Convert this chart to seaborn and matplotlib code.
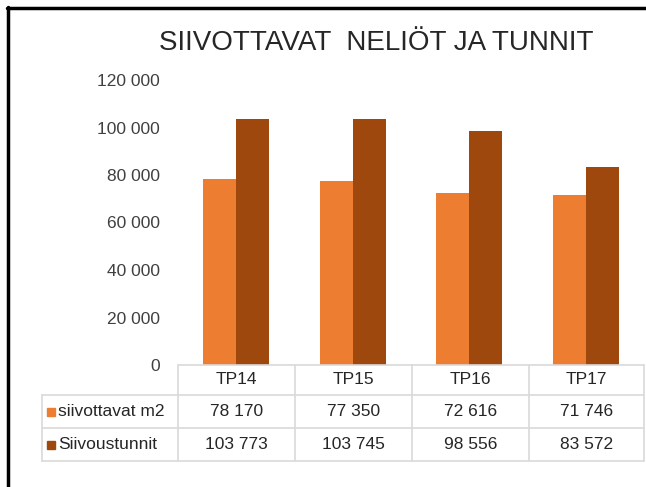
import numpy as np
import pandas as pd
import matplotlib
matplotlib.use('Agg')
import matplotlib.pyplot as plt
import seaborn as sns
from matplotlib.lines import Line2D
from matplotlib.patches import Rectangle

# ── Dados ────────────────────────────────────────────────────────────────────
kaudet = ['TP14', 'TP15', 'TP16', 'TP17']
neliot = [78170, 77350, 72616, 71746]
tunnit = [103773, 103745, 98556, 83572]
sarjat = ['siivottavat m2', 'Siivoustunnit']
y_ticks = [0, 20000, 40000, 60000, 80000, 100000, 120000]

VARIT = {'siivottavat m2': '#ED7D31', 'Siivoustunnit': '#9E480E'}


def fmt(v):
    return f'{v:,}'.replace(',', ' ')


df = pd.DataFrame({
    'kausi': kaudet * 2,
    'sarja': [sarjat[0]] * 4 + [sarjat[1]] * 4,
    'arvo': neliot + tunnit,
})

sns.set_style('white')
plt.rcParams['font.family'] = ['Liberation Sans', 'DejaVu Sans']

W, H = 646, 487
fig = plt.figure(figsize=(W / 100, H / 100), dpi=100)

def fx(px):
    return px / W

def fy(py):
    return 1 - py / H

# plot area
x0, x1 = 178, 644
y_top, y_base = 80, 365
ax = fig.add_axes([fx(x0), fy(y_base), fx(x1) - fx(x0), fy(y_top) - fy(y_base)])
sns.barplot(data=df, x='kausi', y='arvo', hue='sarja', palette=VARIT,
            width=0.57, saturation=1, legend=False, linewidth=0, ax=ax)
ax.set_ylim(0, 120000)
ax.set_yticks(y_ticks)
ax.set_yticklabels([fmt(v) for v in y_ticks], fontsize=12.5, color='#404040')
ax.tick_params(axis='y', length=0, pad=13)
ax.set_xticks([])
ax.set_xlabel('')
ax.set_ylabel('')
for s in ax.spines.values():
    s.set_visible(False)

# data table
grid = '#D9D9D9'
rows = [365, 395, 428, 461]
cols = [178, 295, 412, 529, 644]
left = 42

def hline(y, xa, xb):
    fig.add_artist(Line2D([fx(xa), fx(xb)], [fy(y), fy(y)], color=grid, lw=1.2))

def vline(x, ya, yb):
    fig.add_artist(Line2D([fx(x), fx(x)], [fy(ya), fy(yb)], color=grid, lw=1.2))

hline(rows[0], cols[0], cols[-1])
for y in rows[1:]:
    hline(y, left, cols[-1])
vline(left, rows[1], rows[3])
for x in cols:
    vline(x, rows[0], rows[3])

for i, k in enumerate(kaudet):
    xc = (cols[i] + cols[i + 1]) / 2
    fig.text(fx(xc), fy((rows[0] + rows[1]) / 2), k, ha='center', va='center',
             fontsize=12.5, color='#262626')
    fig.text(fx(xc), fy((rows[1] + rows[2]) / 2), fmt(neliot[i]), ha='center',
             va='center', fontsize=12.5, color='#262626')
    fig.text(fx(xc), fy((rows[2] + rows[3]) / 2), fmt(tunnit[i]), ha='center',
             va='center', fontsize=12.5, color='#262626')

for j, s in enumerate(sarjat):
    yc = (rows[j + 1] + rows[j + 2]) / 2
    fig.add_artist(Rectangle((fx(47), fy(yc + 4)), fx(8), fy(0) - fy(8),
                             color=VARIT[s], transform=fig.transFigure))
    fig.text(fx(58), fy(yc), s, ha='left', va='center', fontsize=12.5, color='#262626')

# title
fig.text(fx(376), fy(43), 'SIIVOTTAVAT  NELIÖT JA TUNNIT', ha='center', va='center',
         fontsize=20, color='#262626')

# outer frame
fig.add_artist(Line2D([fx(8), fx(8)], [fy(7), fy(487)], color='black', lw=2.5))
fig.add_artist(Line2D([fx(7), fx(646)], [fy(8), fy(8)], color='black', lw=2.5))

fig.savefig('out.png', dpi=100)
